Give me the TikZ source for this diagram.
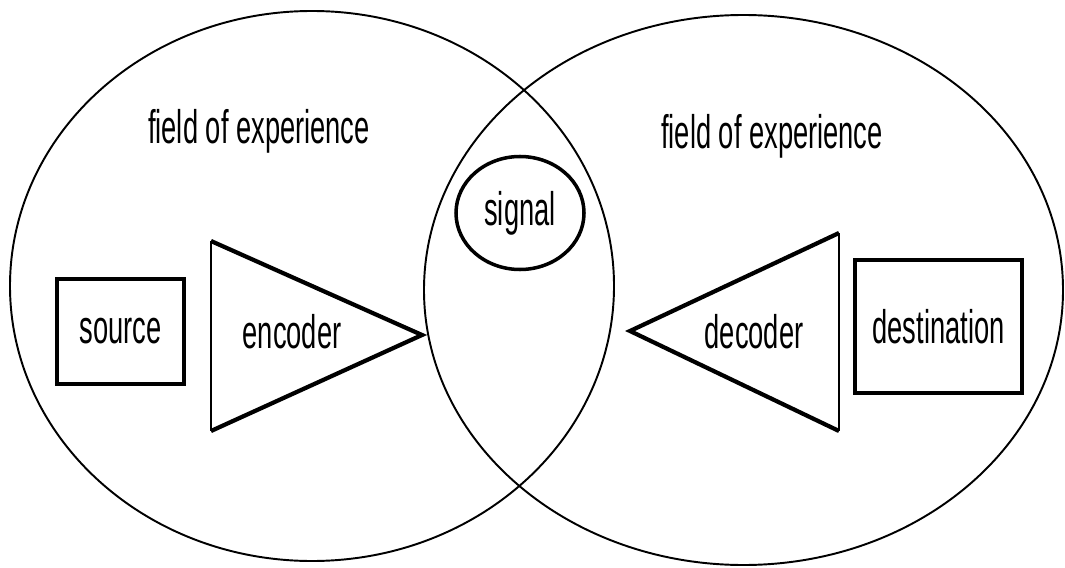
\documentclass[tikz,border=0pt]{standalone}
\usepackage{fontspec}
\setmainfont{Liberation Sans}[FakeStretch=0.58]
\usetikzlibrary{shapes.geometric}

\begin{document}
\begin{tikzpicture}[
  x=0.2mm,y=-0.2mm,
  font=\fontsize{26.8}{30}\selectfont,
  field/.style={draw,ellipse,line width=1.1pt,inner sep=0pt},
  box/.style={draw,line width=2.3pt,inner sep=0pt},
  coder/.style={line width=2.4pt,line join=miter},
  lbl/.style={inner sep=0pt,anchor=base}
]
\useasboundingbox (0,0) rectangle (1065,568);
\node[field,minimum width=120.8mm,minimum height=110mm] (left) at (312,286) {};
\node[field,minimum width=127.8mm,minimum height=110mm] (right) at (743.5,290) {};
\node[field,line width=2pt,minimum width=25.6mm,minimum height=22.6mm] (signal) at (520,213) {signal};
\node[lbl] (fieldL) at (259,143) {field of experience};
\node[lbl] (fieldR) at (772,149) {field of experience};
\node[box,minimum width=25.4mm,minimum height=21mm] (source) at (120.5,331.5) {source};
\node[box,minimum width=33.4mm,minimum height=26.6mm] (dest) at (938.5,326.5) {destination};
\coordinate (enctop) at (211,241); \coordinate (encbot) at (211,431); \coordinate (enctip) at (422,335);
\coordinate (dectop) at (839,233); \coordinate (decbot) at (839,431); \coordinate (dectip) at (630,331);
\draw[line width=1.3pt] (enctop) -- (encbot);
\draw[coder] (enctop) -- (enctip) -- (encbot);
\draw[line width=1.3pt] (dectop) -- (decbot);
\draw[coder] (dectop) -- (dectip) -- (decbot);
\node[lbl] (encoder) at (292,348) {encoder};
\node[lbl] (decoder) at (754,348) {decoder};
\end{tikzpicture}
\end{document}
